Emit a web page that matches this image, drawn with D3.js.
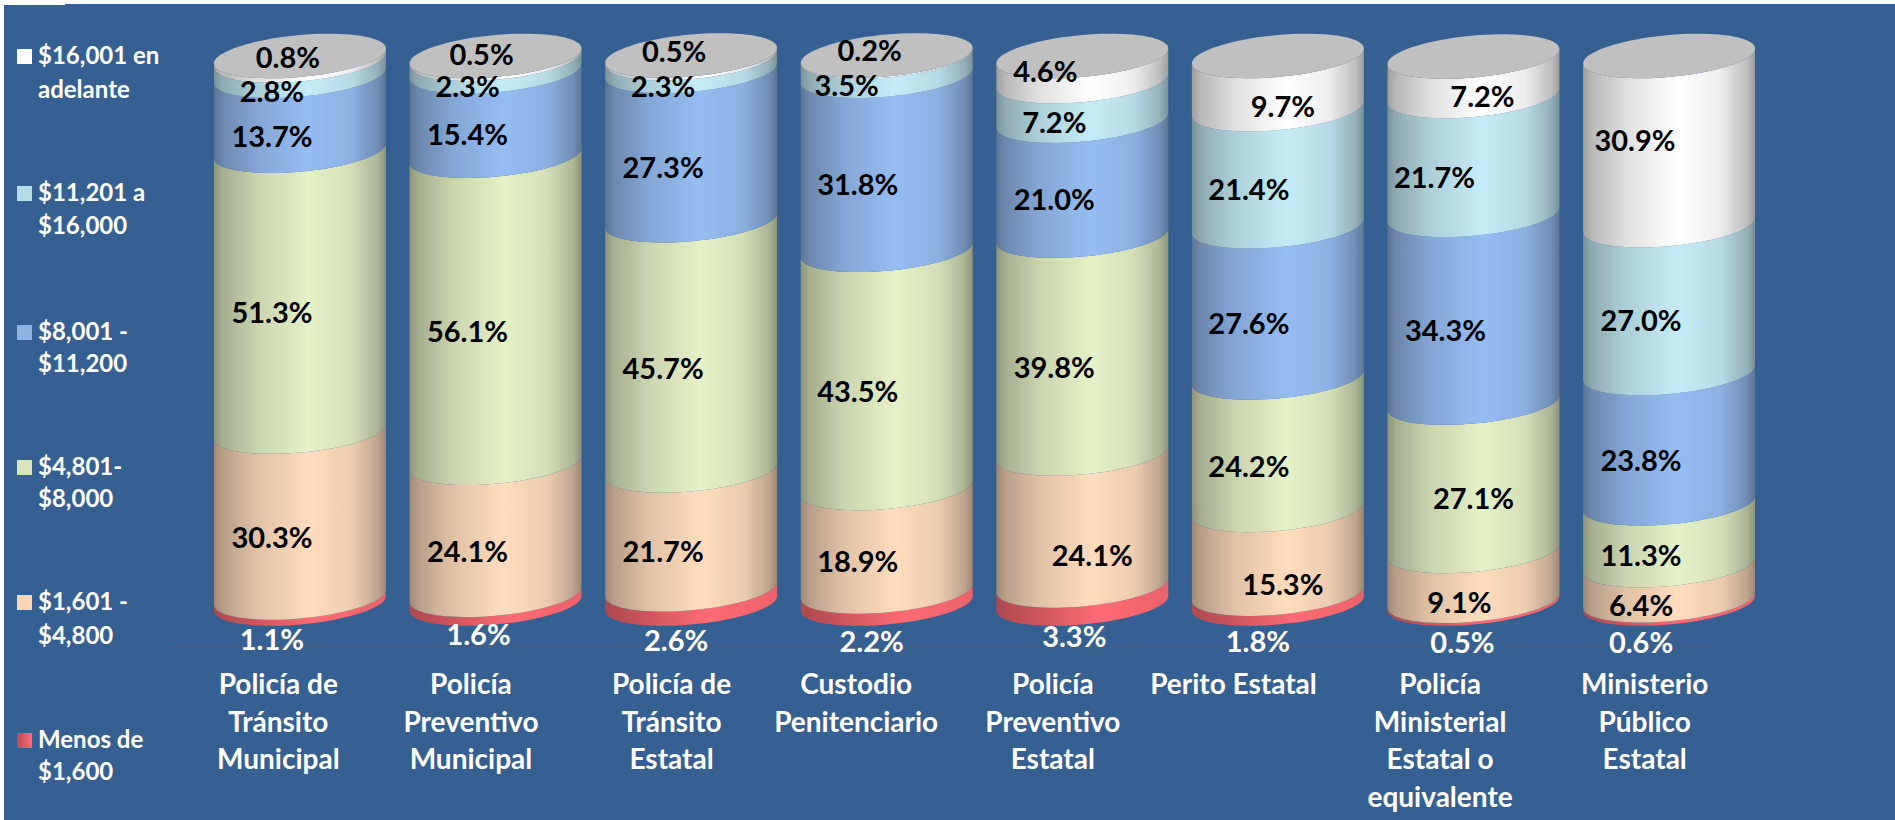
<!DOCTYPE html>
<meta charset="utf-8">
<style>

html,body {
  overflow:hidden;
  padding:0px;
  margin: 0px;
  background-color:white;
}

text {
  font-family: Lato, "Noto Sans", sans-serif;
  font-weight: bold;
}

.axis path {
  stroke: #4d5c7d;
  stroke-width: 1.3px;
}

.axis text {
  fill: white;
  font-size: 28px;
}

.legend text {
  fill: white;
  font-size: 24px;
}

.value {
  font-size: 29px;
  text-anchor: middle;
}

</style>
<body>
<svg></svg>
</body>
<script src="https://d3js.org/d3.v7.min.js"></script>
<script>

// categories, one list of lines per cylinder
var categories = [
  ["Policía de", "Tránsito", "Municipal"],
  ["Policía", "Preventivo", "Municipal"],
  ["Policía de", "Tránsito", "Estatal"],
  ["Custodio", "Penitenciario"],
  ["Policía", "Preventivo", "Estatal"],
  ["Perito Estatal"],
  ["Policía", "Ministerial", "Estatal o", "equivalente"],
  ["Ministerio", "Público", "Estatal"]
];

// series, bottom of the stack first
var menos1600 = [1.1, 1.6, 2.6, 2.2, 3.3, 1.8, 0.5, 0.6];
var de1601 = [30.3, 24.1, 21.7, 18.9, 24.1, 15.3, 9.1, 6.4];
var de4801 = [51.3, 56.1, 45.7, 43.5, 39.8, 24.2, 27.1, 11.3];
var de8001 = [13.7, 15.4, 27.3, 31.8, 21.0, 27.6, 34.3, 23.8];
var de11201 = [2.8, 2.3, 2.3, 3.5, 7.2, 21.4, 21.7, 27.0];
var de16001 = [0.8, 0.5, 0.5, 0.2, 4.6, 9.7, 7.2, 30.9];

var seriesValues = [menos1600, de1601, de4801, de8001, de11201, de16001];
var seriesColors = ["#ff6b74", "#ffdcbd", "#e5f1c7", "#96bdf2", "#c5ecf6", "#ffffff"];
var swatchColors = ["#ff6b74", "#fcd5b4", "#d8e4bc", "#8db4e2", "#b7dee8", "#ffffff"];

// legend, top to bottom
var legendLabels = [
  ["$16,001 en", "adelante"],
  ["$11,201 a", "$16,000"],
  ["$8,001 -", "$11,200"],
  ["$4,801-", "$8,000"],
  ["$1,601 -", "$4,800"],
  ["Menos de", "$1,600"]
];
var legendY = [64, 201, 340, 475, 610, 748];
var legendLineGap = [34, 33, 32, 32, 34, 32];

// the value labels were placed by hand in the original: [dx from cylinder centre, dy from segment middle]
var labelNudge = [
  [[-28,38],[-28,22],[-28,21],[-28,23],[-28,23],[-12,-1]],
  [[-17,35],[-28,22],[-28,22],[-28,20],[-28,21],[-14,-4]],
  [[-15,43],[-28,21],[-28,22],[-28,21],[-28,21],[-17,-6]],
  [[-15,43],[-29,21],[-29,22],[-29,21],[-40,19],[-17,-6]],
  [[-8,41],[10,35],[-28,22],[-28,21],[-28,21],[-37,2]],
  [[-20,42],[5,32],[-29,22],[-29,21],[-29,21],[5,23]],
  [[-11,40],[-14,26],[0,21],[-28,21],[-39,21],[9,20]],
  [[-28,40],[-28,22],[-28,21],[-28,22],[-28,21],[-34,-1]]
];
var categoryNudge = [11, 11, 19, 11, 15, 3, 17, 29];

var width = 1895, height = 820;

var svg = d3.select("svg").attr("width",width).attr("height",height).style("display","block");

// blue panel, the picture leaves a thin white edge top and left
svg.append("rect").attr("x",4).attr("y",4).attr("width",width).attr("height",height).attr("fill","#366092");
svg.append("rect").attr("x",0).attr("y",0).attr("width",65).attr("height",5).attr("fill","white");

var x = d3.scaleBand()
  .domain(d3.range(categories.length))
  .range([202.15,1766.85])
  .paddingInner(0.121)
  .paddingOuter(0.0605);

var y = d3.scaleLinear().domain([0,100]).range([603.5,56]);

var rx = x.bandwidth() / 2;
var ry = 21;
var tilt = 0.087;

// front half of the tilted ellipse, left to right
var angles = d3.range(0,41).map(function(i){ return Math.PI - i * Math.PI / 40; });
var edge = d3.line().x(function(d){ return d[0]; }).y(function(d){ return d[1]; });

function arcPoints(cx,cy,reverse) {
  var pts = angles.map(function(t){
    return [cx + rx * Math.cos(t), cy + ry * Math.sin(t) - tilt * rx * Math.cos(t)];
  });
  return reverse ? pts.reverse() : pts;
}

// shading across the cylinder
var defs = svg.append("defs");
var shades = [[0,0.62],[0.05,0.72],[0.25,0.88],[0.55,1],[0.8,0.93],[0.95,0.75],[1,0.62]];

function addGradient(id,color,stops) {
  var g = defs.append("linearGradient").attr("id",id);
  stops.forEach(function(s){
    var c = d3.rgb(color);
    g.append("stop")
      .attr("offset",s[0])
      .attr("stop-color",d3.rgb(c.r*s[1],c.g*s[1],c.b*s[1]).formatHex());
  });
}

seriesColors.forEach(function(c,i){
  addGradient("shade"+i,c,i==0 ? [[0,0.68],[0.25,0.8],[0.6,1],[1,0.92]] : shades);
});
addGradient("swatchRed",seriesColors[0],[[0,0.72],[1,1]]);

// stack from the bottom, then paint bottom up
var columns = categories.map(function(c,col){
  var sum = 0;
  return seriesValues.map(function(s,k){
    var seg = {col:col, k:k, value:s[col], from:sum, to:sum + s[col]};
    sum = seg.to;
    return seg;
  });
});

var cyl = svg.selectAll(".cylinder").data(columns).enter().append("g")
  .attr("class","cylinder");

cyl.selectAll("path").data(function(d){ return d; }).enter().append("path")
  .attr("fill",function(d){ return "url(#shade"+d.k+")"; })
  .attr("d",function(d){
    var cx = x(d.col) + rx;
    return edge(arcPoints(cx,y(d.to)).concat(arcPoints(cx,y(d.from),true))) + "Z";
  });

cyl.append("path")
  .attr("fill","#c0c0c0")
  .attr("d",function(d){
    var cx = x(d[0].col) + rx;
    var top = y(d[5].to);
    var back = arcPoints(cx,top).map(function(p){
      return [p[0], 2 * top - p[1] - 2 * tilt * (p[0] - cx)];
    }).reverse();
    return edge(arcPoints(cx,top).concat(back)) + "Z";
  });

// axis sits on its own, shorter band than the cylinders
var axisX = d3.scaleBand().domain(d3.range(categories.length)).range([171,1712]);

var axis = svg.append("g")
  .attr("class","axis")
  .attr("transform","translate(0,647)")
  .call(d3.axisBottom(axisX).tickSize(0).tickFormat(""));

axis.selectAll(".tick text")
  .attr("x",function(d){ return categoryNudge[d]; })
  .attr("y",47)
  .attr("dy",null)
  .each(function(d){
    var t = d3.select(this);
    categories[d].forEach(function(line,i){
      t.append("tspan")
        .attr("x",categoryNudge[d])
        .attr("y",47 + i * 37.5)
        .text(line);
    });
  });

// value labels go over everything
svg.selectAll(".labels").data(columns).enter().append("g")
  .selectAll("text").data(function(d){ return d; }).enter().append("text")
  .attr("class","value")
  .attr("x",function(d){ return x(d.col) + rx + labelNudge[d.col][d.k][0]; })
  .attr("y",function(d){ return y((d.from + d.to) / 2) + labelNudge[d.col][d.k][1] + 1; })
  .attr("dy","0.35em")
  .attr("fill",function(d){ return d.k==0 ? "white" : "black"; })
  .text(function(d){ return d.value.toFixed(1) + "%"; });

// legend
var legend = svg.selectAll(".legend").data(legendLabels).enter().append("g")
  .attr("class","legend");

legend.append("rect")
  .attr("x",17)
  .attr("y",function(d,i){ return legendY[i] - 15; })
  .attr("width",15)
  .attr("height",15)
  .attr("fill",function(d,i){ return i==5 ? "url(#swatchRed)" : swatchColors[5-i]; });

legend.append("text")
  .attr("x",38)
  .attr("y",function(d,i){ return legendY[i]; })
  .text(function(d){ return d[0]; });

legend.append("text")
  .attr("x",38)
  .attr("y",function(d,i){ return legendY[i] + legendLineGap[i]; })
  .text(function(d){ return d[1]; });

</script>
